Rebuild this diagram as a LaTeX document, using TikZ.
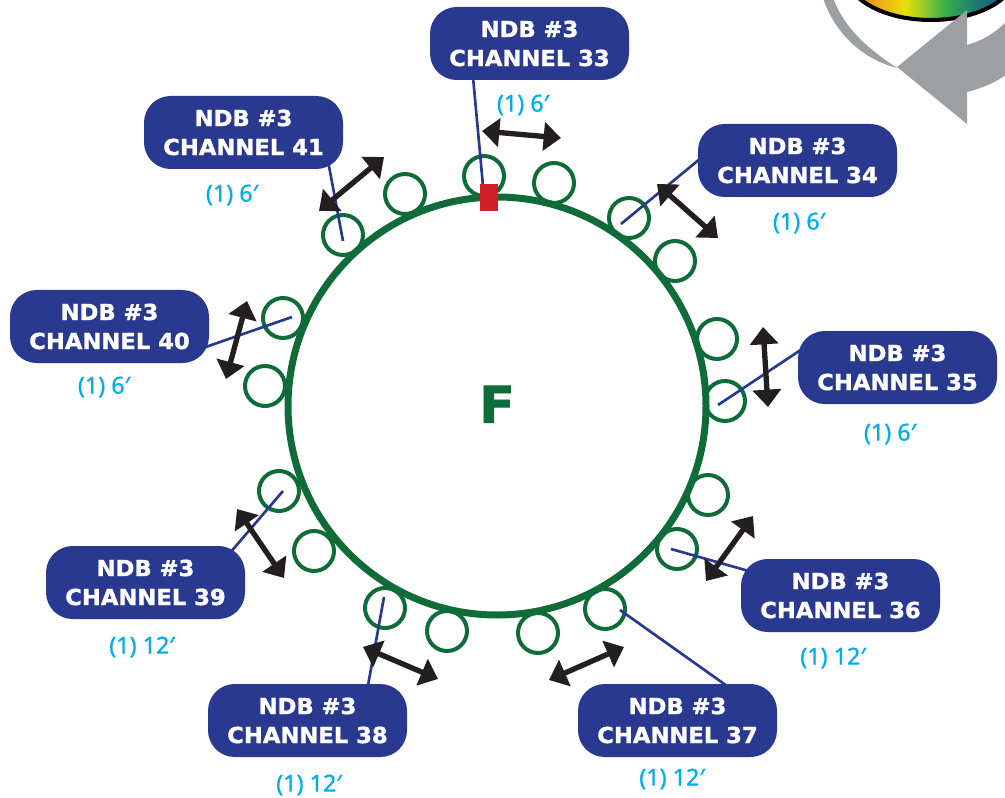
\documentclass[tikz,border=0pt]{standalone}
\usepackage{fontspec}
\setmainfont{DejaVu Sans}[BoldFeatures={FakeBold=1.6,FakeStretch=1.03}]
\newfontfamily\capfont{Noto Sans}[FakeBold=0.9]
\usepackage{tikz}
\usetikzlibrary{arrows.meta}
\definecolor{ndbblue}{HTML}{2A3990}
\definecolor{ringgreen}{HTML}{0F6B38}
\definecolor{capcyan}{HTML}{00AEEF}
\definecolor{armgray}{HTML}{9D9FA2}
\definecolor{feedred}{HTML}{CF2027}
\definecolor{tipblack}{HTML}{231F20}
\definecolor{discorange}{HTML}{E98B25}
\definecolor{discyellow}{HTML}{EBDF0B}
\definecolor{discgreen}{HTML}{36B04A}
\definecolor{discteal}{HTML}{1F7F6E}
\definecolor{discblue}{HTML}{1C5A8C}
\pgfdeclarehorizontalshading{discrainbow}{100bp}{color(0bp)=(discorange); color(30bp)=(discorange); color(42.5bp)=(discyellow); color(54bp)=(discgreen); color(62bp)=(discteal); color(70bp)=(discblue); color(100bp)=(discblue)}

\begin{document}
\begin{tikzpicture}[
x=0.75pt, y=-0.75pt,
chanbox/.style={rectangle, rounded corners=20pt, fill=ndbblue, text=white, minimum width=149.25pt, minimum height=54.75pt, align=center, font=\fontsize{16.5}{21.75}\selectfont\bfseries, inner sep=0pt, outer sep=0pt},
caplabel/.style={text=capcyan, font=\fontsize{17.5}{18}\selectfont\capfont, inner sep=0pt},
portnode/.style={circle, draw=ringgreen, line width=3pt, minimum size=30pt, inner sep=0pt},
ringnode/.style={circle, draw=ringgreen, line width=5.25pt, minimum size=313.5pt, text=ringgreen, font=\fontsize{38}{38}\selectfont\bfseries, inner sep=0pt},
feednode/.style={rectangle, fill=feedred, minimum width=13.5pt, minimum height=20.25pt, inner sep=0pt},
spanarrow/.style={tipblack, line width=4pt, {Triangle[width=21pt,length=13pt]}-{Triangle[width=21pt,length=13pt]}},
leadline/.style={ndbblue, line width=2pt, shorten <=-6pt},
]
\useasboundingbox (0,0) rectangle (1005,798);

% disc and turning arrow, cut off by the page
\begin{scope}
\clip (0,0) rectangle (1005,798);
\path[shade, shading=discrainbow, draw=black, line width=3pt] (931,-28) ellipse [x radius=86, y radius=48];
\fill[armgray] (823,-2) .. controls (835,35) and (865,60) .. (897,68) .. controls (870,50) and (845,30) .. (833,-2) -- cycle;
\fill[armgray] (897,67) -- (967,10) -- (967,45) .. controls (982,41) and (995,33) .. (1007,21) -- (1007,74) .. controls (995,83) and (982,88) .. (967,92) -- (967,124) -- cycle;
\end{scope}

% ports on the ring
\node[portnode] (p33) at (484,176) {};
\node[portnode] (n33) at (554,183) {};
\node[portnode] (p34) at (629,218) {};
\node[portnode] (n34) at (675,261) {};
\node[portnode] (n35) at (717,339) {};
\node[portnode] (p35) at (725,401) {};
\node[portnode] (n36) at (708,495) {};
\node[portnode] (p36) at (677,549) {};
\node[portnode] (p37) at (605,609) {};
\node[portnode] (n37) at (538,633) {};
\node[portnode] (n38) at (447,631) {};
\node[portnode] (p38) at (385,608) {};
\node[portnode] (n39) at (314,551) {};
\node[portnode] (p39) at (279,491) {};
\node[portnode] (n40) at (265,386) {};
\node[portnode] (p40) at (283,318) {};
\node[portnode] (p41) at (343,235) {};
\node[portnode] (n41) at (405,194) {};

\node[ringnode] (ring) at (497,406) {\raisebox{2.5pt}{F}};

% channel boxes
\node[chanbox] (ch33) at (529.5,43.5) {NDB \#3\\CHANNEL 33};
\node[chanbox] (ch34) at (797.5,160.5) {NDB \#3\\CHANNEL 34};
\node[chanbox] (ch35) at (897.5,367.5) {NDB \#3\\CHANNEL 35};
\node[chanbox] (ch36) at (840.5,595.5) {NDB \#3\\CHANNEL 36};
\node[chanbox] (ch37) at (677.5,720.5) {NDB \#3\\CHANNEL 37};
\node[chanbox] (ch38) at (307.5,720.5) {NDB \#3\\CHANNEL 38};
\node[chanbox] (ch39) at (145.5,582.5) {NDB \#3\\CHANNEL 39};
\node[chanbox] (ch40) at (109.5,326.5) {NDB \#3\\CHANNEL 40};
\node[chanbox] (ch41) at (243.5,132.5) {NDB \#3\\CHANNEL 41};

\node[caplabel] (cap33) at (523,105) {(1) 6′};
\node[caplabel] (cap34) at (799,223) {(1) 6′};
\node[caplabel] (cap35) at (890,434) {(1) 6′};
\node[caplabel] (cap36) at (833,658) {(1) 12′};
\node[caplabel] (cap37) at (672,779) {(1) 12′};
\node[caplabel] (cap38) at (309,785) {(1) 12′};
\node[caplabel] (cap39) at (142,647) {(1) 12′};
\node[caplabel] (cap40) at (104,387) {(1) 6′};
\node[caplabel] (cap41) at (232,195) {(1) 6′};

% lead ends inside the ports
\coordinate (t33) at (483,186);
\coordinate (t34) at (621,224);
\coordinate (t35) at (718,405);
\coordinate (t36) at (671,549);
\coordinate (t37) at (620,610);
\coordinate (t38) at (384,597);
\coordinate (t39) at (283,491);
\coordinate (t40) at (292,317);
\coordinate (t41) at (343,241);

\draw[leadline] (ch33.213) -- (t33);
\draw[leadline] (ch34.west) -- (t34);
\draw[leadline] (ch35.171) -- (t35);
\draw[leadline] (ch36.165.5) -- (t36);
\draw[leadline] (ch37.38) -- (t37);
\draw[leadline] (ch38.31) -- (t38);
\draw[leadline] (ch39.22.8) -- (t39);
\draw[leadline] (ch40.349) -- (t40);
\draw[leadline] (ch41.337.1) -- (t41);

\node[feednode] (feed) at (489,197.5) {};

% spacing arrows
\coordinate (a33) at (482,131); \coordinate (b33) at (561,138);
\coordinate (a34) at (657,184); \coordinate (b34) at (718,238);
\coordinate (a35) at (763,327); \coordinate (b35) at (768,407);
\coordinate (a36) at (753,516); \coordinate (b36) at (706,581);
\coordinate (a37) at (624,647); \coordinate (b37) at (549,680);
\coordinate (a38) at (363,647); \coordinate (b38) at (438,679);
\coordinate (a39) at (237,509); \coordinate (b39) at (284,578);
\coordinate (a40) at (247,301); \coordinate (b40) at (226,379);
\coordinate (a41) at (384,157); \coordinate (b41) at (319,211);

\draw[spanarrow] (a33) -- (b33);
\draw[spanarrow] (a34) -- (b34);
\draw[spanarrow] (a35) -- (b35);
\draw[spanarrow] (a36) -- (b36);
\draw[spanarrow] (a37) -- (b37);
\draw[spanarrow] (a38) -- (b38);
\draw[spanarrow] (a39) -- (b39);
\draw[spanarrow] (a40) -- (b40);
\draw[spanarrow] (a41) -- (b41);
\end{tikzpicture}
\end{document}
